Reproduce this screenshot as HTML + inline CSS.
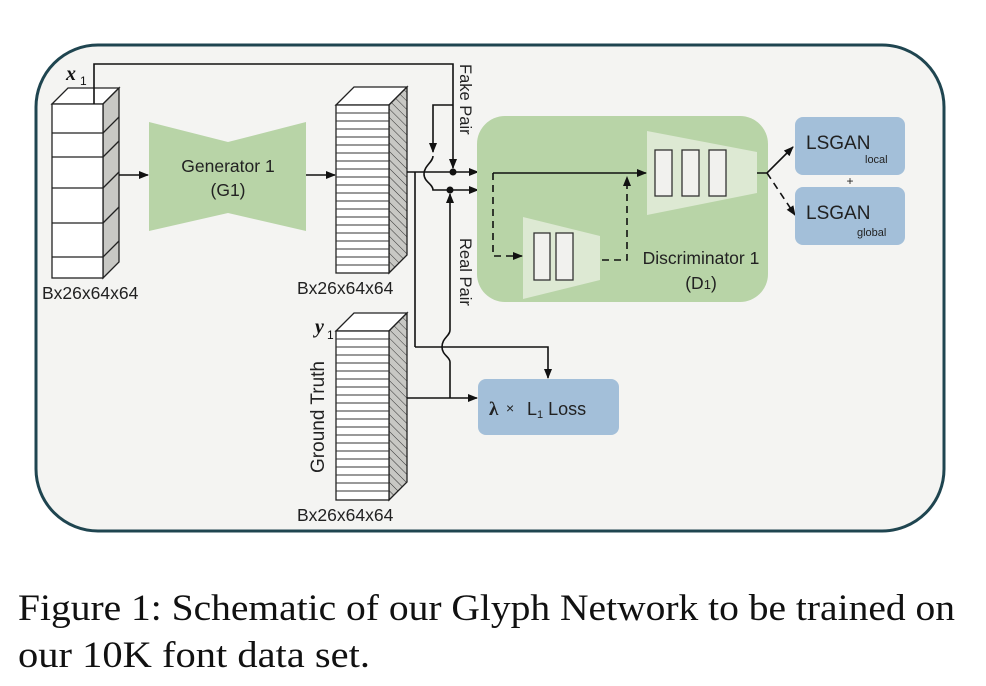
<!DOCTYPE html>
<html><head><meta charset="utf-8"><style>
html,body{margin:0;padding:0;background:#fff;}
svg{display:block;}
</style></head><body>
<svg width="986" height="686" viewBox="0 0 986 686" xmlns="http://www.w3.org/2000/svg" font-family="Liberation Sans, sans-serif">
<defs>
<marker id="ar" markerWidth="10" markerHeight="8" refX="9" refY="4" orient="auto" markerUnits="userSpaceOnUse"><path d="M0,0 L10,4 L0,8 z" fill="#111"/></marker>
<pattern id="hatch" width="6" height="6" patternUnits="userSpaceOnUse" patternTransform="rotate(-45)"><rect width="6" height="6" fill="#c8c8c4"/><line x1="0" y1="0" x2="0" y2="6" stroke="#333" stroke-width="1"/></pattern>
</defs>
<rect x="36" y="45" width="908" height="486" rx="62" fill="#f4f4f2" stroke="#1f4550" stroke-width="3"/>

<!-- stack 1 -->
<polygon points="52,104 68,88 119,88 103,104" fill="#fff" stroke="#222" stroke-width="1.3"/>
<polygon points="103,104 119,88 119,262 103,278" fill="#c8c8c4" stroke="#222" stroke-width="1.3"/>
<rect x="52" y="104" width="51" height="174" fill="#fff" stroke="#222" stroke-width="1.3"/>
<g stroke="#222" stroke-width="1.3">
<line x1="52" y1="133" x2="103" y2="133"/><line x1="103" y1="133" x2="119" y2="117"/>
<line x1="52" y1="157" x2="103" y2="157"/><line x1="103" y1="157" x2="119" y2="141"/>
<line x1="52" y1="188" x2="103" y2="188"/><line x1="103" y1="188" x2="119" y2="172"/>
<line x1="52" y1="223" x2="103" y2="223"/><line x1="103" y1="223" x2="119" y2="207"/>
<line x1="52" y1="257" x2="103" y2="257"/><line x1="103" y1="257" x2="119" y2="241"/>
</g>
<text x="42" y="299" font-size="17.5" fill="#222">Bx26x64x64</text>
<text x="66" y="80" font-size="20" font-weight="bold" font-style="italic" font-family="Liberation Serif, serif" fill="#111">x</text>
<text x="80" y="85" font-size="12" fill="#111">1</text>

<!-- generator -->
<polygon points="149,122 228,142 306,122 306,231 228,213 149,231" fill="#b8d4a7"/>
<text x="228" y="172" font-size="17.5" text-anchor="middle" fill="#222">Generator 1</text>
<text x="228" y="196" font-size="17.5" text-anchor="middle" fill="#222">(G1)</text>
<g stroke="#111" stroke-width="1.6" fill="none">
<line x1="119" y1="175" x2="148" y2="175" marker-end="url(#ar)"/>
<line x1="306" y1="175" x2="335" y2="175" marker-end="url(#ar)"/>
</g>

<!-- stack 2 -->
<polygon points="336,105 354,87 407,87 389,105" fill="#fff" stroke="#222" stroke-width="1.3"/>
<polygon points="389,105 407,87 407,255 389,273" fill="url(#hatch)" stroke="#222" stroke-width="1.3"/>
<rect x="336" y="105" width="53" height="168" fill="#fff" stroke="#222" stroke-width="1.3"/>
<g stroke="#333" stroke-width="1">
<line x1="336" y1="113" x2="389" y2="113"/><line x1="336" y1="121" x2="389" y2="121"/><line x1="336" y1="129" x2="389" y2="129"/><line x1="336" y1="137" x2="389" y2="137"/><line x1="336" y1="145" x2="389" y2="145"/><line x1="336" y1="153" x2="389" y2="153"/><line x1="336" y1="161" x2="389" y2="161"/><line x1="336" y1="169" x2="389" y2="169"/><line x1="336" y1="177" x2="389" y2="177"/><line x1="336" y1="185" x2="389" y2="185"/><line x1="336" y1="193" x2="389" y2="193"/><line x1="336" y1="201" x2="389" y2="201"/><line x1="336" y1="209" x2="389" y2="209"/><line x1="336" y1="217" x2="389" y2="217"/><line x1="336" y1="225" x2="389" y2="225"/><line x1="336" y1="233" x2="389" y2="233"/><line x1="336" y1="241" x2="389" y2="241"/><line x1="336" y1="249" x2="389" y2="249"/><line x1="336" y1="257" x2="389" y2="257"/><line x1="336" y1="265" x2="389" y2="265"/>
</g>
<text x="297" y="294" font-size="17.5" fill="#222">Bx26x64x64</text>

<!-- stack 3 ground truth -->
<polygon points="336,331 354,313 407,313 389,331" fill="#fff" stroke="#222" stroke-width="1.3"/>
<polygon points="389,331 407,313 407,482 389,500" fill="url(#hatch)" stroke="#222" stroke-width="1.3"/>
<rect x="336" y="331" width="53" height="169" fill="#fff" stroke="#222" stroke-width="1.3"/>
<g stroke="#333" stroke-width="1">
<line x1="336" y1="339" x2="389" y2="339"/><line x1="336" y1="347" x2="389" y2="347"/><line x1="336" y1="355" x2="389" y2="355"/><line x1="336" y1="363" x2="389" y2="363"/><line x1="336" y1="371" x2="389" y2="371"/><line x1="336" y1="379" x2="389" y2="379"/><line x1="336" y1="387" x2="389" y2="387"/><line x1="336" y1="395" x2="389" y2="395"/><line x1="336" y1="403" x2="389" y2="403"/><line x1="336" y1="411" x2="389" y2="411"/><line x1="336" y1="419" x2="389" y2="419"/><line x1="336" y1="427" x2="389" y2="427"/><line x1="336" y1="435" x2="389" y2="435"/><line x1="336" y1="443" x2="389" y2="443"/><line x1="336" y1="451" x2="389" y2="451"/><line x1="336" y1="459" x2="389" y2="459"/><line x1="336" y1="467" x2="389" y2="467"/><line x1="336" y1="475" x2="389" y2="475"/><line x1="336" y1="483" x2="389" y2="483"/><line x1="336" y1="491" x2="389" y2="491"/>
</g>
<text x="297" y="521" font-size="17.5" fill="#222">Bx26x64x64</text>
<text x="315" y="333" font-size="20" font-weight="bold" font-style="italic" font-family="Liberation Serif, serif" fill="#111">y</text>
<text x="327" y="339" font-size="12" fill="#111">1</text>
<text transform="translate(324,417) rotate(-90)" font-size="19" text-anchor="middle" fill="#222">Ground Truth</text>

<!-- connectors -->
<g stroke="#111" stroke-width="1.6" fill="none">
<polyline points="94,104 94,64 453,64 453,168" marker-end="url(#ar)"/>
<polyline points="453,105 433,105 433,152" marker-end="url(#ar)"/>
<path d="M433,156 C433,162 424,166 424,174 C424,182 433,184 433,190 L450,190"/>
<line x1="407" y1="172" x2="478" y2="172" marker-end="url(#ar)"/>
<line x1="450" y1="190" x2="478" y2="190" marker-end="url(#ar)"/>
<line x1="415" y1="172" x2="415" y2="347"/>
<path d="M415,347 L437,347"/>
<path d="M450,330 C450,336 442,338 442,347 C442,355 450,357 450,362"/>
<line x1="450" y1="330" x2="450" y2="194" marker-end="url(#ar)"/>
<line x1="450" y1="362" x2="450" y2="398"/>
<polyline points="437,347 548,347 548,378" marker-end="url(#ar)"/>
<line x1="407" y1="398" x2="477" y2="398" marker-end="url(#ar)"/>
</g>
<circle cx="453" cy="172" r="3.5" fill="#111"/>
<circle cx="450" cy="190" r="3.5" fill="#111"/>
<text transform="translate(460,64) rotate(90)" font-size="16.5" fill="#222">Fake Pair</text>
<text transform="translate(460,238) rotate(90)" font-size="16.5" fill="#222">Real Pair</text>

<!-- L1 box -->
<rect x="478" y="379" width="141" height="56" rx="8" fill="#a3bfd9"/>
<text x="489" y="415" font-size="19" font-weight="bold" font-family="Liberation Serif, serif" fill="#222">λ</text>
<text x="506" y="413" font-size="14" fill="#222">×</text>
<text x="527" y="415" font-size="18" fill="#222">L<tspan font-size="11" dy="3">1</tspan><tspan dy="-3"> Loss</tspan></text>

<!-- discriminator -->
<rect x="477" y="116" width="291" height="186" rx="28" fill="#b8d4a7"/>
<polygon points="647,131 757,152 757,193 647,215" fill="#dde9d3"/>
<g fill="#f1f1ee" stroke="#333" stroke-width="1.3">
<rect x="655" y="150" width="17" height="46"/><rect x="682" y="150" width="17" height="46"/><rect x="709" y="150" width="17" height="46"/>
</g>
<polygon points="523,217 600,236 600,280 523,299" fill="#dde9d3"/>
<g fill="#f1f1ee" stroke="#333" stroke-width="1.3">
<rect x="534" y="233" width="16" height="47"/><rect x="556" y="233" width="17" height="47"/>
</g>
<g stroke="#111" stroke-width="1.6" fill="none">
<line x1="493" y1="173" x2="646" y2="173" marker-end="url(#ar)"/>
<polyline points="493,173 493,256 522,256" stroke-dasharray="7,5" marker-end="url(#ar)"/>
<polyline points="602,260 627,260 627,177" stroke-dasharray="7,5" marker-end="url(#ar)"/>
<polyline points="757,173 767,173 793,147" marker-end="url(#ar)"/>
<line x1="767" y1="173" x2="795" y2="215" stroke-dasharray="7,5" marker-end="url(#ar)"/>
</g>
<text x="701" y="264" font-size="17.5" text-anchor="middle" fill="#222">Discriminator 1</text>
<text x="701" y="289" font-size="17.5" text-anchor="middle" fill="#222">(D<tspan font-size="13">1</tspan>)</text>

<!-- LSGAN boxes -->
<rect x="795" y="117" width="110" height="58" rx="8" fill="#a3bfd9"/>
<rect x="795" y="187" width="110" height="58" rx="8" fill="#a3bfd9"/>
<text x="806" y="149" font-size="19" fill="#222">LSGAN</text>
<text x="865" y="163" font-size="11" fill="#222">local</text>
<text x="806" y="219" font-size="19" fill="#222">LSGAN</text>
<text x="857" y="236" font-size="11" fill="#222">global</text>
<text x="850" y="185" font-size="12" text-anchor="middle" fill="#222">+</text>

<!-- caption -->
<text x="18" y="620" font-size="37" font-family="Liberation Serif, serif" fill="#111" textLength="937" lengthAdjust="spacingAndGlyphs">Figure 1: Schematic of our Glyph Network to be trained on</text>
<text x="18" y="667" font-size="37" font-family="Liberation Serif, serif" fill="#111" textLength="352" lengthAdjust="spacingAndGlyphs">our 10K font data set.</text>
</svg>
</body></html>
